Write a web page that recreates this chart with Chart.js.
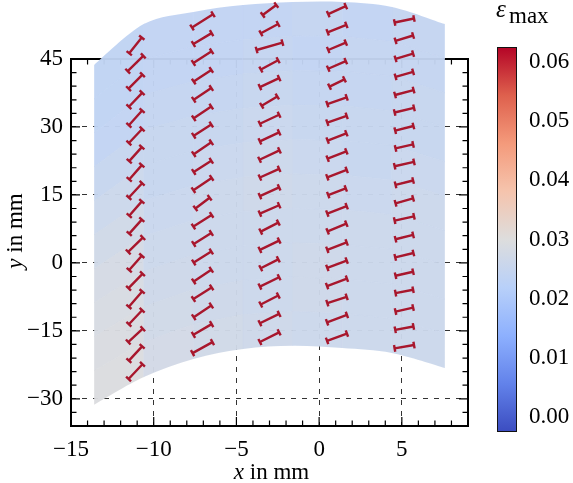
<!DOCTYPE html>
<html>
<head>
<meta charset="utf-8">
<script src="https://cdn.jsdelivr.net/npm/chart.js@4.4.1/dist/chart.umd.min.js"></script>
<style>
  html, body { margin: 0; padding: 0; background: #fff; }
  #wrap { position: relative; width: 573px; height: 483px; }
  .box { position: absolute; top: 0; }
</style>
</head>
<body>
<div id="wrap">
  <div class="box" style="left:0;width:573px;height:483px"><canvas id="fieldChart"></canvas></div>
  <div class="box" style="left:470px;width:103px;height:483px"><canvas id="scaleChart"></canvas></div>
</div>
<script>
// axis ticks (mm)
const xMajor = [-15, -10, -5, 0, 5];
const yMajor = [-30, -15, 0, 15, 30, 45];
const cbTicks = [0.00, 0.01, 0.02, 0.03, 0.04, 0.05, 0.06];
const cbMin = -0.0025, cbMax = 0.0625;

// outline of the measured field: column edges and top / bottom boundary (mm)
const fieldX      = [-13.6, -10.6, -7.6, -4.6, -1.6, 1.4, 4.4, 7.6];
const fieldTop    = [43.7, 52.7, 55.4, 56.9, 57.6, 57.6, 56.5, 52.7];
const fieldBottom = [-31.3, -25.2, -21.2, -19.0, -18.3, -18.8, -19.9, -23.2];

// eps_max per cell, rows from top to bottom, columns from left to right
const fieldVals = [
  [0.0235, 0.024, 0.024, 0.024, 0.0245, 0.024, 0.0245],
  [0.0235, 0.024, 0.024, 0.0245, 0.024, 0.0245, 0.0245],
  [0.024, 0.0245, 0.0245, 0.025, 0.0245, 0.0245, 0.025],
  [0.025, 0.025, 0.025, 0.0255, 0.025, 0.025, 0.025],
  [0.026, 0.025, 0.0255, 0.026, 0.0255, 0.025, 0.0255],
  [0.027, 0.0255, 0.026, 0.0265, 0.026, 0.0255, 0.026],
  [0.028, 0.026, 0.026, 0.026, 0.026, 0.026, 0.026],
  [0.0285, 0.0265, 0.026, 0.026, 0.0265, 0.026, 0.026],
  [0.029, 0.027, 0.0265, 0.026, 0.0265, 0.026, 0.026],
  [0.0295, 0.0275, 0.027, 0.0265, 0.026, 0.026, 0.026]
];

// principal direction markers: column x, centre y, half extent in x and y (mm)
const segX = [-11.1, -7.05, -3.0, 1.08, 5.15];
const segY = [
  [48, 44, 40, 36, 32, 28, 24, 20, 16, 12, 8, 4, 0, -4, -8, -12, -16, -20, -24],
  [53.4, 49.5, 45.4, 41.3, 37.3, 33.2, 29.3, 25.3, 21.3, 17.4, 13.2, 9.3, 5.4, 1.3, -2.8, -6.7, -10.7, -14.7, -18.7],
  [55.8, 51.7, 47.8, 43.7, 39.8, 35.7, 31.7, 27.8, 23.8, 19.8, 15.7, 11.8, 7.9, 3.9, -0.2, -4.2, -8.2, -12.3, -16.4],
  [55.8, 51.7, 47.8, 43.7, 39.7, 35.8, 31.7, 27.8, 23.8, 19.7, 15.7, 11.7, 7.8, 3.7, -0.3, -4.3, -8.2, -12.3, -16.4],
  [53.5, 49.6, 45.6, 41.6, 37.6, 33.7, 29.7, 25.7, 21.8, 17.7, 13.7, 9.8, 5.7, 1.7, -2.4, -6.3, -10.3, -14.4, -18.5]
];
const segDX = [
  [0.38, 0.47, 0.42, 0.40, 0.40, 0.40, 0.38, 0.38, 0.40, 0.38, 0.38, 0.44, 0.38, 0.42, 0.40, 0.40, 0.44, 0.40, 0.42],
  [0.635, 0.55, 0.55, 0.53, 0.53, 0.53, 0.53, 0.53, 0.53, 0.55, 0.43, 0.55, 0.53, 0.53, 0.53, 0.55, 0.53, 0.55, 0.60],
  [0.41, 0.52, 0.78, 0.52, 0.58, 0.47, 0.58, 0.58, 0.60, 0.58, 0.58, 0.58, 0.53, 0.58, 0.53, 0.58, 0.53, 0.58, 0.58],
  [0.53, 0.565, 0.53, 0.53, 0.45, 0.585, 0.585, 0.565, 0.565, 0.585, 0.53, 0.585, 0.565, 0.585, 0.585, 0.60, 0.585, 0.60, 0.60],
  [0.585, 0.53, 0.53, 0.53, 0.56, 0.585, 0.55, 0.53, 0.585, 0.53, 0.53, 0.585, 0.53, 0.55, 0.53, 0.53, 0.53, 0.55, 0.585]
];
const segDY = [
  [1.73, 1.69, 1.54, 1.54, 1.62, 1.54, 1.54, 1.58, 1.58, 1.58, 1.54, 1.58, 1.58, 1.58, 1.69, 1.54, 1.47, 1.58, 1.62],
  [1.47, 1.21, 1.29, 1.29, 1.29, 1.29, 1.25, 1.32, 1.25, 1.36, 1.18, 1.29, 1.21, 1.21, 1.29, 1.29, 1.29, 1.18, 1.21],
  [1.10, 1.03, 0.81, 1.03, 0.99, 1.03, 0.99, 0.99, 1.03, 0.96, 0.96, 0.92, 0.99, 1.03, 0.99, 1.03, 0.99, 1.03, 1.07],
  [0.88, 0.81, 0.81, 0.85, 0.81, 0.74, 0.74, 0.81, 0.81, 0.81, 0.74, 0.81, 0.85, 0.81, 0.81, 0.81, 0.70, 0.81, 0.81],
  [0.44, 0.59, 0.59, 0.55, 0.55, 0.51, 0.51, 0.44, 0.48, 0.48, 0.55, 0.48, 0.48, 0.48, 0.44, 0.37, 0.44, 0.37, 0.37]
];

// coolwarm
const cmap = [[59, 76, 192], [98, 130, 234], [141, 176, 254], [184, 208, 249], [221, 221, 221],
              [245, 196, 173], [244, 154, 123], [222, 96, 77], [180, 4, 38]];
const serif = '"Liberation Serif", "Times New Roman", serif';
const fontSize = 23;
const markColor = '#a8172d';

function colorFor(v) {
  let f = (v - cbMin) / (cbMax - cbMin);
  f = Math.min(1, Math.max(0, f)) * (cmap.length - 1);
  const i = Math.min(Math.floor(f), cmap.length - 2), t = f - i;
  const c = cmap[i].map((a, k) => Math.round(a + t * (cmap[i + 1][k] - a)));
  return `rgb(${c[0]},${c[1]},${c[2]})`;
}

function fmt(v) {
  return v < 0 ? '\u2212' + Math.abs(v) : String(v);
}

function edgeAt(arr, xv) {
  let i = 0;
  while (i < fieldX.length - 2 && xv > fieldX[i + 1]) i++;
  const t = (xv - fieldX[i]) / (fieldX[i + 1] - fieldX[i]);
  return arr[i] + t * (arr[i + 1] - arr[i]);
}

function curveThrough(ctx, pts) {
  for (let i = 0; i < pts.length - 1; i++) {
    const p0 = pts[Math.max(i - 1, 0)], p1 = pts[i], p2 = pts[i + 1], p3 = pts[Math.min(i + 2, pts.length - 1)];
    ctx.bezierCurveTo(p1.x + (p2.x - p0.x) / 6, p1.y + (p2.y - p0.y) / 6,
                      p2.x - (p3.x - p1.x) / 6, p2.y - (p3.y - p1.y) / 6, p2.x, p2.y);
  }
}

// segment end points, one gap between markers
const segData = [];
segX.forEach((cx, c) => {
  segY[c].forEach((cy, r) => {
    segData.push({x: cx - segDX[c][r], y: cy - segDY[c][r]});
    segData.push({x: cx + segDX[c][r], y: cy + segDY[c][r]});
    segData.push({x: cx, y: null});
  });
});

const framePlugin = {
  id: 'frame',
  beforeDatasetsDraw(chart) {
    const {ctx, chartArea: a, scales: {x, y}} = chart;
    ctx.save();
    ctx.strokeStyle = '#000';
    ctx.lineWidth = 1.2;
    ctx.beginPath();
    x.ticks.forEach(t => {
      const px = x.getPixelForValue(t.value);
      const len = xMajor.includes(t.value) ? 9 : 5.5;
      ctx.moveTo(px, a.bottom); ctx.lineTo(px, a.bottom - len);
      ctx.moveTo(px, a.top); ctx.lineTo(px, a.top + len);
    });
    y.ticks.forEach(t => {
      const py = y.getPixelForValue(t.value);
      const len = yMajor.includes(t.value) ? 9 : 5.5;
      ctx.moveTo(a.left, py); ctx.lineTo(a.left + len, py);
      ctx.moveTo(a.right, py); ctx.lineTo(a.right - len, py);
    });
    ctx.stroke();
    ctx.lineWidth = 2;
    ctx.strokeRect(a.left, a.top, a.right - a.left, a.bottom - a.top);
    ctx.restore();
  }
};

const fieldPlugin = {
  id: 'strainField',
  beforeDatasetsDraw(chart) {
    const {ctx, scales: {x, y}} = chart;
    const top = fieldX.map((v, i) => ({x: x.getPixelForValue(v), y: y.getPixelForValue(fieldTop[i])}));
    const bot = fieldX.map((v, i) => ({x: x.getPixelForValue(v), y: y.getPixelForValue(fieldBottom[i])})).reverse();
    ctx.save();
    ctx.beginPath();
    ctx.moveTo(top[0].x, top[0].y);
    curveThrough(ctx, top);
    ctx.lineTo(bot[0].x, bot[0].y);
    curveThrough(ctx, bot);
    ctx.closePath();
    ctx.clip();
    ctx.globalAlpha = 0.96;
    const nRows = fieldVals.length;
    for (let r = 0; r < nRows; r++) {
      const vTop = r === 0 ? 1.3 : 1 - r / nRows;
      const vBot = r === nRows - 1 ? -0.3 : 1 - (r + 1) / nRows;
      for (let c = 0; c < fieldX.length - 1; c++) {
        const x0 = fieldX[c] - (c === 0 ? 0.5 : 0), x1 = fieldX[c + 1] + (c === fieldX.length - 2 ? 0.5 : 0);
        const up = [], dn = [];
        for (let k = 0; k <= 6; k++) {
          const xv = x0 + (x1 - x0) * k / 6;
          const b = edgeAt(fieldBottom, xv), t = edgeAt(fieldTop, xv);
          up.push([x.getPixelForValue(xv), y.getPixelForValue(b + vTop * (t - b))]);
          dn.push([x.getPixelForValue(xv), y.getPixelForValue(b + vBot * (t - b))]);
        }
        ctx.beginPath();
        up.forEach((p, k) => k ? ctx.lineTo(p[0], p[1]) : ctx.moveTo(p[0], p[1]));
        dn.reverse().forEach(p => ctx.lineTo(p[0], p[1]));
        ctx.closePath();
        ctx.fillStyle = ctx.strokeStyle = colorFor(fieldVals[r][c]);
        ctx.lineWidth = 0.6;
        ctx.fill();
        ctx.stroke();
      }
    }
    ctx.restore();
  },
  // markers above y = 45 sit outside the axes box, so let their caps be drawn too
  beforeDatasetDraw(chart) {
    chart.$innerArea = chart.chartArea;
    chart.chartArea = {left: 0, top: 0, right: chart.width, bottom: chart.height, width: chart.width, height: chart.height};
  },
  afterDatasetDraw(chart) {
    chart.chartArea = chart.$innerArea;
  },
  afterDraw(chart) {
    const {ctx, chartArea: a} = chart;
    ctx.save();
    ctx.fillStyle = '#000';
    ctx.textBaseline = 'alphabetic';
    // x title
    ctx.font = `italic ${fontSize}px ${serif}`;
    const wx = ctx.measureText('x').width;
    ctx.font = `${fontSize}px ${serif}`;
    const wr = ctx.measureText(' in mm').width;
    let sx = (a.left + a.right) / 2 + 2 - (wx + wr) / 2;
    ctx.font = `italic ${fontSize}px ${serif}`;
    ctx.fillText('x', sx, 479);
    ctx.font = `${fontSize}px ${serif}`;
    ctx.fillText(' in mm', sx + wx, 479);
    // y title
    ctx.translate(22, 231);
    ctx.rotate(-Math.PI / 2);
    ctx.font = `italic ${fontSize}px ${serif}`;
    const wy = ctx.measureText('y').width;
    sx = -(wy + wr) / 2;
    ctx.fillText('y', sx, 0);
    ctx.font = `${fontSize}px ${serif}`;
    ctx.fillText(' in mm', sx + wy, 0);
    ctx.restore();
  }
};

new Chart(document.getElementById('fieldChart'), {
  type: 'scatter',
  data: {
    datasets: [{
      data: segData,
      showLine: true,
      spanGaps: false,
      clip: false,
      borderColor: markColor,
      borderWidth: 2.4,
      pointStyle: 'line',
      pointRadius: 3.4,
      pointBorderWidth: 2.4,
      pointBorderColor: markColor,
      pointRotation: ctx => {
        const i = ctx.dataIndex - (ctx.dataIndex % 3);
        const p = segData[i], q = segData[i + 1];
        const sx = ctx.chart.scales.x, sy = ctx.chart.scales.y;
        const ang = Math.atan2(sy.getPixelForValue(q.y) - sy.getPixelForValue(p.y),
                               sx.getPixelForValue(q.x) - sx.getPixelForValue(p.x));
        return ang * 180 / Math.PI + 90;
      }
    }]
  },
  options: {
    responsive: true,
    maintainAspectRatio: false,
    animation: false,
    events: [],
    layout: {padding: {left: 0, top: 59, right: 105, bottom: 0}},
    plugins: {legend: {display: false}, tooltip: {enabled: false}},
    scales: {
      x: {
        type: 'linear', min: -15, max: 9,
        afterBuildTicks: s => { s.ticks = []; for (let v = -15; v <= 9; v++) s.ticks.push({value: v}); },
        afterFit: s => { s.height = 57; },
        ticks: {
          autoSkip: false, maxRotation: 0, padding: 10, color: '#000',
          font: {family: serif, size: fontSize},
          callback: v => xMajor.includes(v) ? fmt(v) : ''
        },
        grid: {
          drawTicks: false, lineWidth: 1,
          color: c => (xMajor.includes(c.tick.value) && c.tick.value !== -15) ? '#333' : 'rgba(0,0,0,0)'
        },
        border: {display: false, dash: [5, 6]}
      },
      y: {
        type: 'linear', min: -36, max: 45,
        afterBuildTicks: s => { s.ticks = []; for (let v = -36; v <= 45; v += 3) s.ticks.push({value: v}); },
        afterFit: s => { s.width = 71; },
        ticks: {
          autoSkip: false, padding: 8, color: '#000',
          font: {family: serif, size: fontSize},
          callback: v => yMajor.includes(v) ? fmt(v) : ''
        },
        grid: {
          drawTicks: false, lineWidth: 1,
          color: c => (yMajor.includes(c.tick.value) && c.tick.value !== 45) ? '#333' : 'rgba(0,0,0,0)'
        },
        border: {display: false, dash: [5, 6]}
      }
    }
  },
  plugins: [framePlugin, fieldPlugin]
});

const cbTitlePlugin = {
  id: 'cbTitle',
  afterDraw(chart) {
    const ctx = chart.ctx;
    ctx.save();
    ctx.fillStyle = '#000';
    ctx.font = `italic ${fontSize + 2}px ${serif}`;
    ctx.fillText('\u03b5', 26, 17);
    ctx.font = `${fontSize}px ${serif}`;
    ctx.fillText('max', 39, 23);
    ctx.restore();
  }
};

new Chart(document.getElementById('scaleChart'), {
  type: 'bar',
  data: {
    labels: ['eps'],
    datasets: [{
      data: [[cbMin, cbMax]],
      backgroundColor: ctx => {
        const a = ctx.chart.chartArea;
        if (!a) return '#ddd';
        const g = ctx.chart.ctx.createLinearGradient(0, a.bottom, 0, a.top);
        cmap.forEach((c, i) => g.addColorStop(i / (cmap.length - 1), `rgb(${c[0]},${c[1]},${c[2]})`));
        return g;
      },
      borderColor: '#111',
      borderWidth: 1.3,
      borderSkipped: false,
      barPercentage: 1,
      categoryPercentage: 1
    }]
  },
  options: {
    responsive: true,
    maintainAspectRatio: false,
    animation: false,
    events: [],
    layout: {padding: {left: 27, top: 47, right: 0, bottom: 51}},
    plugins: {legend: {display: false}, tooltip: {enabled: false}},
    scales: {
      x: {display: false},
      y: {
        position: 'right', min: cbMin, max: cbMax,
        afterBuildTicks: s => { s.ticks = cbTicks.map(v => ({value: v})); },
        afterFit: s => { s.width = 56; },
        ticks: {padding: 12, color: '#000', font: {family: serif, size: fontSize}, callback: v => v.toFixed(2)},
        grid: {display: false, drawTicks: false},
        border: {display: false}
      }
    }
  },
  plugins: [cbTitlePlugin]
});
</script>
</body>
</html>
